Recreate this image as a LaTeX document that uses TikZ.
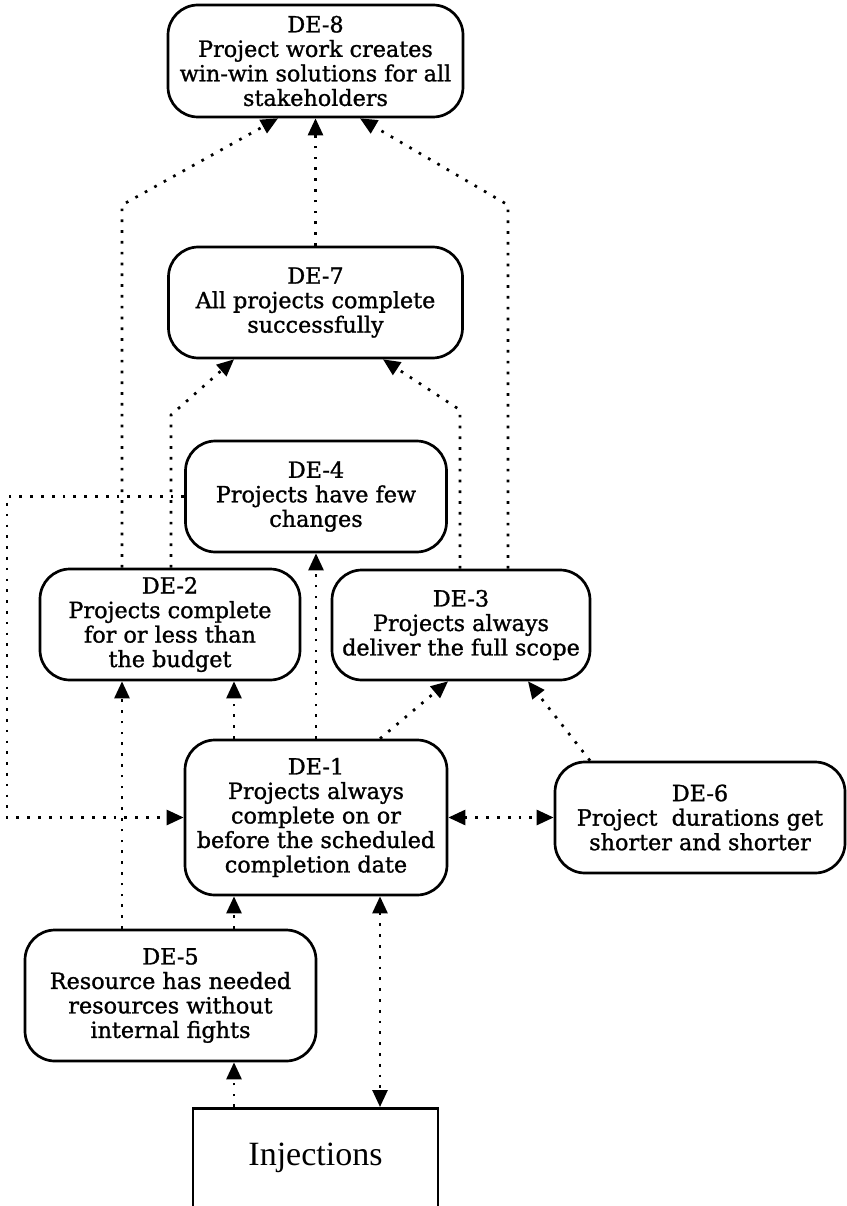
\documentclass[tikz,border=0pt]{standalone}
\usepackage{fontspec}
\setmainfont{DejaVu Serif}[FakeBold=1.2]
\newfontfamily\injfont{Liberation Serif}
\usetikzlibrary{arrows.meta}
\begin{document}
\begin{tikzpicture}[x=1pt,y=-1pt,
  de/.style={draw, line width=2.7pt, rounded corners=30pt, align=center,
    inner sep=0pt, font=\fontsize{22.3}{24.5}\selectfont},
  inj/.style={draw, line width=2.7pt, inner sep=0pt,
    font=\injfont\fontsize{34}{38}\selectfont},
  link/.style={line width=2.7pt, dash pattern=on 2.7pt off 8.1pt,
    -{Triangle[length=17pt,width=15pt]}},
  both/.style={link, {Triangle[length=17pt,width=15pt]}-{Triangle[length=17pt,width=15pt]}}]
\useasboundingbox (0,0) rectangle (846,1206);

% boxes
\node[de, minimum width=295pt, minimum height=112pt] (de8) at (315.5,61)
  {DE-8\\Project work creates\\win-win solutions for all\\stakeholders};
\node[de, minimum width=294pt, minimum height=111pt] (de7) at (315.5,302.5)
  {DE-7\\All projects complete\\successfully};
\node[de, minimum width=261pt, minimum height=111pt] (de4) at (316,496.5)
  {DE-4\\Projects have few\\changes};
\node[de, minimum width=260pt, minimum height=111pt] (de2) at (170,624.5)
  {DE-2\\Projects complete\\for or less than\\the budget};
\node[de, minimum width=258pt, minimum height=110pt] (de3) at (461,625)
  {DE-3\\Projects always\\deliver the full scope};
\node[de, minimum width=262pt, minimum height=155pt] (de1) at (316,817.5)
  {DE-1\\Projects always\\complete on or\\before the scheduled\\completion date};
\node[de, minimum width=290pt, minimum height=111pt] (de6) at (700,817.5)
  {DE-6\\Project~ durations get\\shorter and shorter};
\node[de, minimum width=291pt, minimum height=131pt] (de5) at (170.5,995.5)
  {DE-5\\Resource has needed\\resources without\\internal fights};
\node[inj, minimum width=245pt, text height=57pt, text depth=67pt, anchor=north]
  (inj) at (315.5,1107) {Injections};

% connector columns and bends
\coordinate (x7) at (7,0);
\coordinate (x122) at (122,0);
\coordinate (x171) at (171,0);
\coordinate (x234) at (234,0);
\coordinate (x278) at (278,0);
\coordinate (x316) at (316,0);
\coordinate (x360) at (360,0);
\coordinate (x380) at (380,0);
\coordinate (x383) at (383,0);
\coordinate (x448) at (448,0);
\coordinate (x460) at (460,0);
\coordinate (x508) at (508,0);
\coordinate (x528) at (528,0);
\coordinate (x590) at (590,0);
\coordinate (b1) at (122,205);
\coordinate (b2) at (508,205);
\coordinate (b3) at (171,415);
\coordinate (b4) at (460,410);

% connectors
\draw[link] (de7.north) -- (de8.south);
\draw[link] (de2.north -| x122) -- (b1) -- (de8.south -| x278);
\draw[link] (de3.north -| x508) -- (b2) -- (de8.south -| x360);
\draw[link] (de2.north -| x171) -- (b3) -- (de7.south -| x234);
\draw[link] (de3.north -| x460) -- (b4) -- (de7.south -| x383);
\draw[link] (de1.north -| x316) -- (de4.south);
\draw[link] (de1.north -| x234) -- (de2.south -| x234);
\draw[link] (de1.north -| x380) -- (de3.south -| x448);
\draw[link] (de6.north -| x590) -- (de3.south -| x528);
\draw[link] (de4.west) -- (de4.west -| x7) -- (de1.west -| x7) -- (de1.west);
\draw[both] (de1.east) -- (de6.west);
\draw[link] (de5.north -| x122) -- (de2.south -| x122);
\draw[link] (de5.north -| x234) -- (de1.south -| x234);
\draw[link] (inj.north -| x234) -- (de5.south -| x234);
\draw[both] (de1.south -| x380) -- (inj.north -| x380);
\end{tikzpicture}
\end{document}
